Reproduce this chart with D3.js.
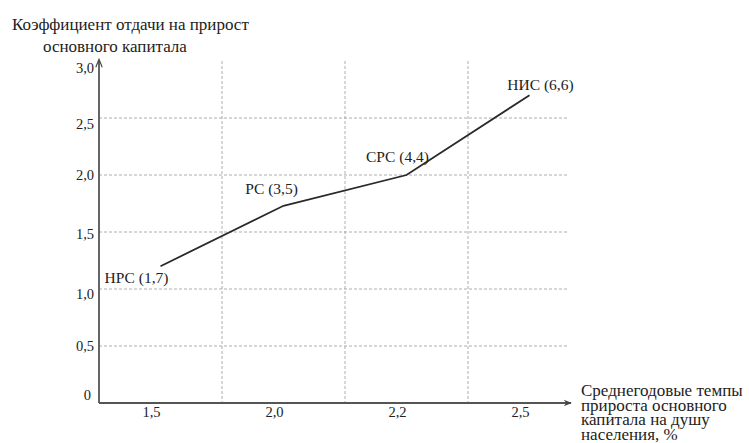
<!DOCTYPE html>
<html>
<head>
<meta charset="utf-8">
<script src="https://cdn.jsdelivr.net/npm/d3@7/dist/d3.min.js"></script>
<style>
  html, body { margin: 0; padding: 0; background: #fff; }
  svg { display: block; }
  svg text { font-family: "Liberation Serif", "Times New Roman", serif; }
</style>
</head>
<body>
<svg id="chart" width="749" height="443"></svg>
<script>
// ---- data ----
const categories = ["1,5", "2,0", "2,2", "2,5"];
const values = [1.2, 1.73, 2.0, 2.7];
const pointLabels = ["НРС (1,7)", "РС (3,5)", "СРС (4,4)", "НИС (6,6)"];
const yTicks = [0, 0.5, 1.0, 1.5, 2.0, 2.5, 3.0];
const yTickLabels = ["0", "0,5", "1,0", "1,5", "2,0", "2,5", "3,0"];
const yTitleLines = ["Коэффициент отдачи на прирост", "основного капитала"];
const xTitleLines = ["Среднегодовые темпы", "прироста основного", "капитала на душу", "населения, %"];

// ---- layout ----
const FONT = '"Liberation Serif", "Times New Roman", serif';
const svg = d3.select("#chart");
const x0 = 99, x1 = 591, yBottom = 403, yTop = 61;
const x = d3.scaleBand().domain(categories).range([x0, x1]).padding(0);
const y = d3.scaleLinear().domain([0, 3]).range([yBottom, yTop]);
const xc = c => x(c) + x.bandwidth() / 2;

const defs = svg.append("defs");
defs.append("marker").attr("id", "arrowX").attr("viewBox", "0 0 10 10")
  .attr("refX", 9).attr("refY", 5).attr("markerWidth", 11).attr("markerHeight", 8)
  .attr("markerUnits", "userSpaceOnUse").attr("orient", "auto")
  .append("path").attr("d", "M0,1 L10,5 L0,9 L3,5 Z").attr("fill", "#444");
defs.append("marker").attr("id", "arrowY").attr("viewBox", "0 0 10 10")
  .attr("refX", 9).attr("refY", 5).attr("markerWidth", 10).attr("markerHeight", 8)
  .attr("markerUnits", "userSpaceOnUse").attr("orient", "auto")
  .append("path").attr("d", "M0,1 L10,5 L0,9").attr("fill", "none").attr("stroke", "#444").attr("stroke-width", 1.4);

// ---- grid ----
const grid = svg.append("g").attr("stroke", "#9a9a9a").attr("stroke-width", 0.8)
  .attr("stroke-dasharray", "3,2").attr("fill", "none");
grid.selectAll("line.h").data(yTicks.filter(v => v > 0 && v < 3)).join("line")
  .attr("class", "h").attr("x1", x0).attr("x2", 568)
  .attr("y1", d => y(d)).attr("y2", d => y(d));
grid.selectAll("line.v").data(categories.slice(1)).join("line")
  .attr("class", "v").attr("x1", d => x(d)).attr("x2", d => x(d))
  .attr("y1", y(3)).attr("y2", yBottom);

// ---- axes ----
svg.append("line").attr("x1", x0).attr("x2", 571).attr("y1", yBottom).attr("y2", yBottom)
  .attr("stroke", "#555").attr("stroke-width", 1.8).attr("marker-end", "url(#arrowX)");
svg.append("line").attr("x1", x0).attr("x2", x0).attr("y1", yBottom).attr("y2", 60)
  .attr("stroke", "#555").attr("stroke-width", 1.8).attr("marker-end", "url(#arrowY)");

// y tick labels (baseline nudges as in the scanned figure)
const yLabelNudge = [-3, 5, 10, 7, 5, 11, 12];
svg.append("g").selectAll("text").data(yTicks).join("text")
  .attr("font-family", FONT)
  .attr("x", d => d === 0 ? 91 : 94)
  .attr("y", (d, i) => y(d) + yLabelNudge[i])
  .attr("text-anchor", "end").attr("font-size", 14.5).attr("fill", "#222")
  .text((d, i) => yTickLabels[i]);

// x tick labels
svg.append("g").selectAll("text").data(categories).join("text")
  .attr("font-family", FONT)
  .attr("x", d => xc(d) - 9).attr("y", 417)
  .attr("text-anchor", "middle").attr("font-size", 14.5).attr("fill", "#222")
  .text(d => d);

// ---- line ----
const pts = categories.map((c, i) => ({ c, v: values[i], label: pointLabels[i] }));
svg.append("path").datum(pts)
  .attr("fill", "none").attr("stroke", "#2a2a2a").attr("stroke-width", 1.8)
  .attr("d", d3.line().x(d => xc(d.c)).y(d => y(d.v)));

const labelOffsets = [[-24, 17], [-12, -12], [-9, -13], [11, -5]];
svg.append("g").selectAll("text").data(pts).join("text")
  .attr("font-family", FONT)
  .attr("x", (d, i) => xc(d.c) + labelOffsets[i][0])
  .attr("y", (d, i) => y(d.v) + labelOffsets[i][1])
  .attr("text-anchor", "middle").attr("font-size", 15.5).attr("fill", "#222")
  .text(d => d.label);

// ---- titles ----
svg.append("text").attr("font-family", FONT).attr("font-size", 17).attr("fill", "#222")
  .selectAll("tspan").data(yTitleLines).join("tspan")
  .attr("x", (d, i) => i === 0 ? 12 : 43).attr("y", (d, i) => 30 + i * 22)
  .text(d => d);
svg.append("text").attr("font-family", FONT).attr("font-size", 17).attr("fill", "#222")
  .selectAll("tspan").data(xTitleLines).join("tspan")
  .attr("x", 581).attr("y", (d, i) => 396 + i * 14.5)
  .text(d => d);
</script>
</body>
</html>
